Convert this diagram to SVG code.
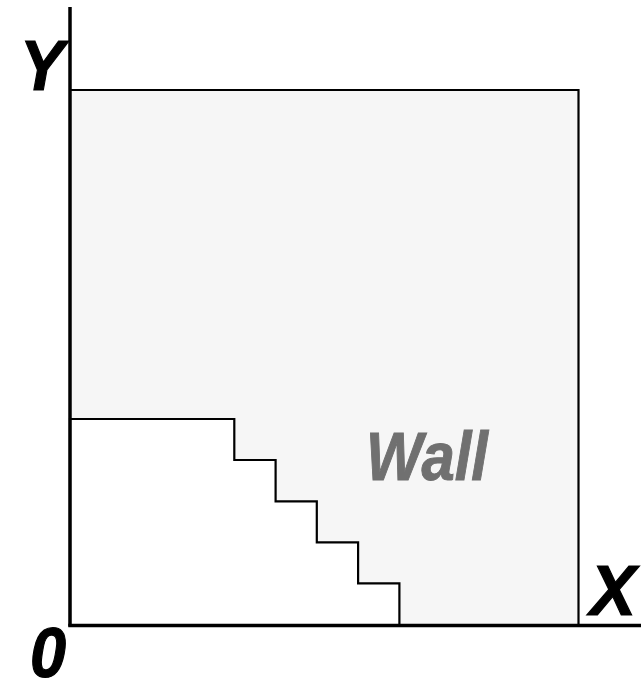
<svg xmlns="http://www.w3.org/2000/svg" width="641" height="684" viewBox="0 0 641 684">
<style>
.lbl{font-family:"Liberation Sans",Arial,sans-serif;font-weight:bold;font-style:italic;font-size:70px;fill:#000;stroke:#000;stroke-width:1.2}
.wall{font-family:"Liberation Sans",Arial,sans-serif;font-weight:bold;font-style:italic;font-size:68px;fill:#707070;stroke:#707070;stroke-width:1}
.edge{fill:none;stroke:#000;stroke-width:2.2}
.axis{fill:none;stroke:#000;stroke-width:3.5}
</style>
<rect width="641" height="684" fill="#fff"/>
<g id="wall-region">
<rect x="70" y="90" width="508.5" height="535" fill="#f6f6f6"/>
<path class="edge" d="M70,90 H578.5 V625"/>
</g>
<g id="free-region">
<path d="M70,419 H234.3 V460 H275.6 V501.3 H316.8 V542.3 H358.1 V583.3 H399.4 V625 H70 Z" fill="#fff" stroke="#000" stroke-width="2.2"/>
</g>
<g id="axes">
<line class="axis" x1="70" y1="7" x2="70" y2="626.5"/>
<line class="axis" x1="68.3" y1="625.5" x2="641" y2="625.5"/>
</g>
<g id="labels">
<text class="lbl" x="20" y="90" textLength="44" lengthAdjust="spacingAndGlyphs">Y</text>
<text class="lbl" x="590" y="615" textLength="46" lengthAdjust="spacingAndGlyphs">X</text>
<text class="lbl" x="30" y="677" textLength="36" lengthAdjust="spacingAndGlyphs">0</text>
<text class="wall" x="366" y="480" textLength="122" lengthAdjust="spacingAndGlyphs">Wall</text>
</g>
</svg>
